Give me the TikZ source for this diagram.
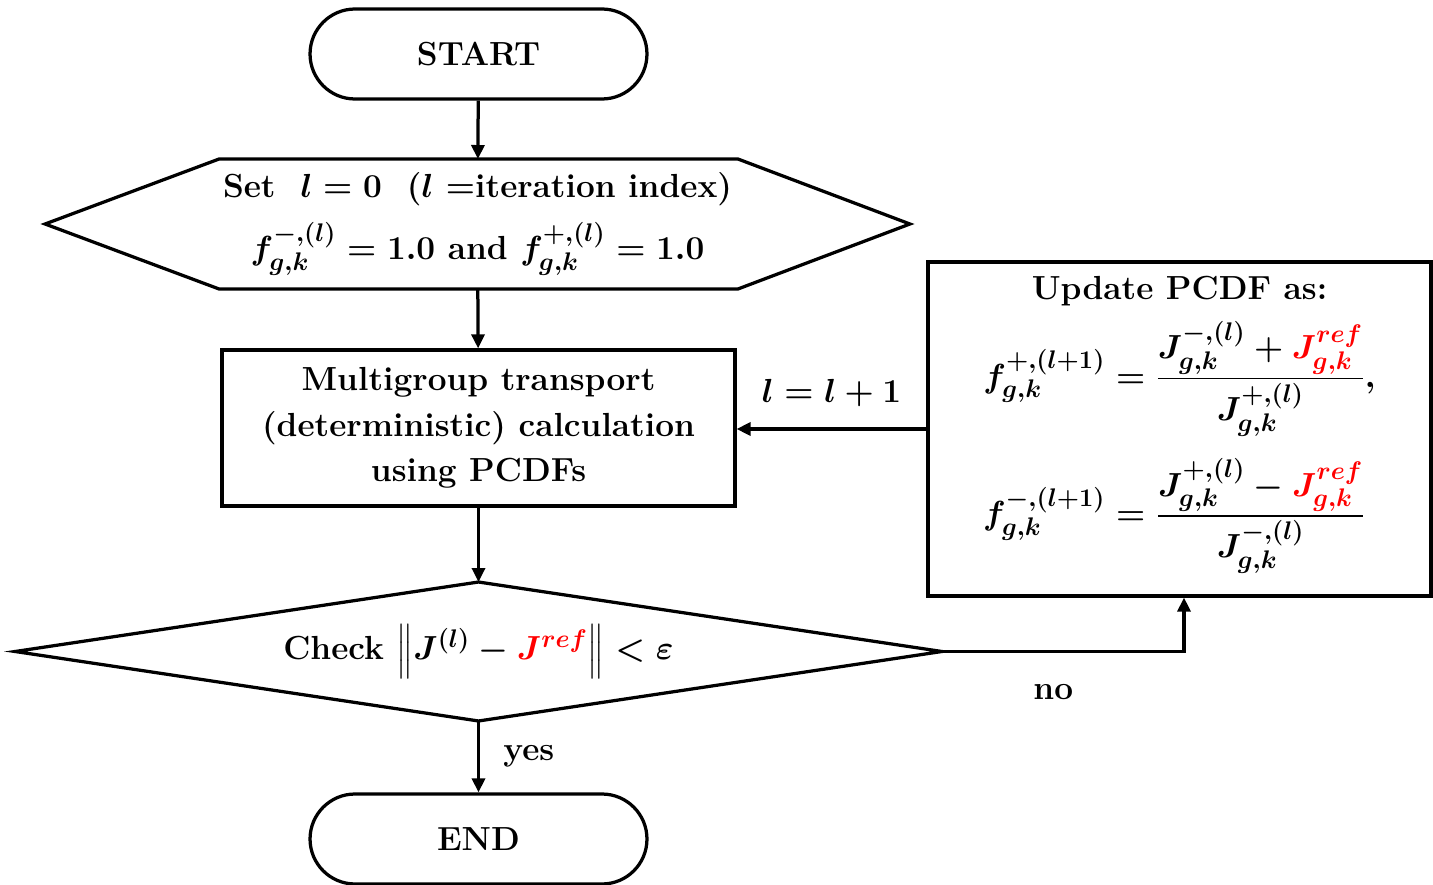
\RequirePackage{fix-cm}
\documentclass[tikz,border=0pt]{standalone}
\usepackage{amsmath}
\usepackage{fontspec}
\DeclareMathSizes{19}{19}{14.5}{11}
\usetikzlibrary{arrows.meta,calc}
\begin{document}
\begin{tikzpicture}[x=0.02cm,y=-0.02cm,line width=0.065cm,
  every node/.style={font=\fontsize{19}{26}\selectfont\bfseries\boldmath},
  terminal/.style={draw,rounded corners=0.9cm,minimum width=6.74cm,minimum height=1.8cm,inner sep=0pt},
  frame/.style={inner sep=0pt,outer sep=0pt,align=center},
  arr/.style={-{Triangle[length=0.28cm,width=0.26cm]}}]
\path[use as bounding box] (0,0) rectangle (1433,885);

% terminals
\node[terminal] (start) at (478.5,54) {START};
\node[terminal] (end) at (478.5,839) {END};

% initialisation (hexagon)
\node[frame,minimum width=17.3cm,minimum height=2.6cm] (init) at (477.5,224)
  {Set \ $l=0$ \ ($l$ =iteration index)\\[8pt]
   $f_{g,k}^{-,(l)}=1.0$ and $f_{g,k}^{+,(l)}=1.0$};
\draw (init.west) -- ([xshift=3.48cm]init.north west) -- ([xshift=-3.44cm]init.north east)
  -- (init.east) -- ([xshift=-3.44cm]init.south east) -- ([xshift=3.48cm]init.south west) -- cycle;

% transport calculation
\node[draw,align=center,minimum width=10.26cm,minimum height=3.12cm,inner sep=0pt] (proc) at (478.5,428)
  {Multigroup transport\\(deterministic) calculation\\using PCDFs};

% convergence check (diamond)
\node[frame,minimum width=18.54cm,minimum height=2.78cm] (check) at (478.5,651.5)
  {Check $\Big\|J^{(l)}-\textcolor{red}{J^{ref}}\Big\|<\varepsilon$};
\draw (check.west) -- (check.north) -- (check.east) -- (check.south) -- cycle;

% PCDF update
\node[draw,align=center,minimum width=10.06cm,minimum height=6.68cm,inner sep=0pt] (upd) at (1179.5,429)
  {Update PCDF as:\\[8pt]
   $\displaystyle f_{g,k}^{+,(l+1)}=\frac{J_{g,k}^{-,(l)}+\textcolor{red}{J_{g,k}^{ref}}}{J_{g,k}^{+,(l)}},$\\[12pt]
   $\displaystyle f_{g,k}^{-,(l+1)}=\frac{J_{g,k}^{+,(l)}-\textcolor{red}{J_{g,k}^{ref}}}{J_{g,k}^{-,(l)}}\phantom{,}$\\[4pt]};

% connectors
\draw[arr] (start) -- (init);
\draw[arr] (init) -- (proc);
\draw[arr] (proc) -- (check);
\draw[arr] (check.south) -- (end) node[midway,right,xshift=0.35cm] {yes};
\draw[arr] (check.east) -| ([xshift=0.09cm]upd.south) node[pos=0.23,below,yshift=-0.5cm] {no};
\draw[arr] (upd.west) -- (upd.west -| proc.east) node[midway,above,yshift=0.3cm] {$l=l+1$};
\end{tikzpicture}
\end{document}
